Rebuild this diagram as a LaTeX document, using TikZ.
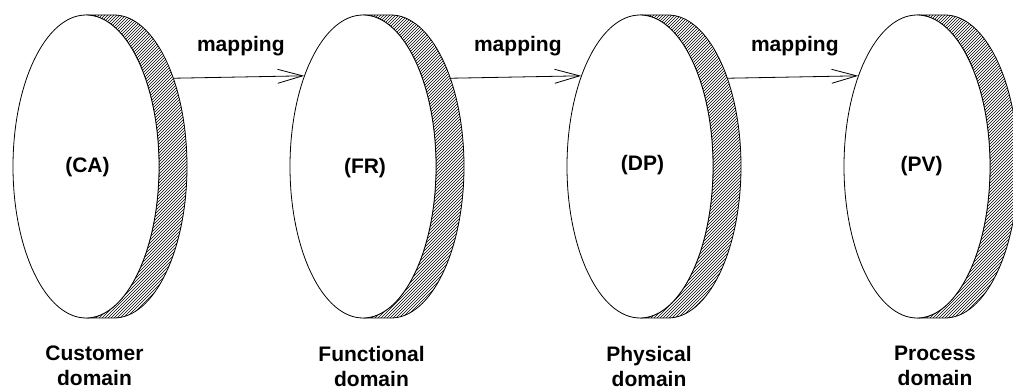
\documentclass[tikz,border=0pt]{standalone}
\usepackage{fontspec}
\setmainfont{Liberation Sans}
\usetikzlibrary{patterns,arrows.meta,shapes.geometric}
\tikzset{
  x=1pt,y=1pt,
  lbl/.style={font=\fontsize{21}{25}\selectfont\bfseries, inner sep=0pt},
  front/.style={ellipse, draw, fill=white, line width=0.8pt, minimum width=146pt, minimum height=303pt, inner sep=0pt},
  back/.style={ellipse, minimum width=146pt, minimum height=303pt, inner sep=0pt},
  side/.style={draw, line width=0.8pt, pattern=north east lines},
  maparrow/.style={draw, line width=0.8pt, -{Straight Barb[length=25pt,width=14pt,line width=0.8pt]}},
}
\begin{document}
\begin{tikzpicture}
\useasboundingbox (0,0) rectangle (1013,-390);
\def\cy{-166.5}
\def\rx{73}
\def\ry{151.5}
\def\sh{28}
\foreach \i/\cx in {1/86,2/363,3/640,4/917}{
  \path[side] (\cx,\cy+\ry) -- (\cx+\sh,\cy+\ry)
    arc[start angle=90,end angle=-90,x radius=\rx,y radius=\ry]
    -- (\cx,\cy-\ry)
    arc[start angle=-90,end angle=90,x radius=\rx,y radius=\ry] -- cycle;
  \node[back] (b\i) at (\cx+\sh,\cy) {};
  \node[front] (f\i) at (\cx,\cy) {};
}
\node[lbl, anchor=base] (ca) at (87.5,-173) {(CA)};
\node[lbl, anchor=base] (fr) at (365,-174) {(FR)};
\node[lbl, anchor=base] (dp) at (642.5,-171) {(DP)};
\node[lbl, anchor=base] (pv) at (921.5,-172) {(PV)};

\foreach \a/\b in {1/2,2/3,3/4}{
  \draw[maparrow] (b\a.56.5) -- node[lbl, anchor=base, yshift=26pt, xshift=2pt] (m\a) {mapping} (f\b.123.5);
}

\node[lbl, align=center, anchor=north] (d1) at (94.5,-346) {Customer\\domain};
\node[lbl, align=center, anchor=north] (d2) at (371.5,-346) {Functional\\domain};
\node[lbl, align=center, anchor=north] (d3) at (649,-346) {Physical\\domain};
\node[lbl, align=center, anchor=north] (d4) at (935,-346) {Process\\domain};
\end{tikzpicture}
\end{document}
